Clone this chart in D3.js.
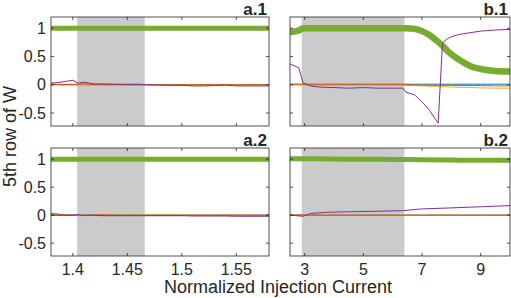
<!DOCTYPE html>
<html>
<head>
<meta charset="utf-8">
<script src="https://cdn.jsdelivr.net/npm/d3@7"></script>
<style>
  body { margin: 0; background: #fff; }
  svg { display: block; }
  text { font-family: "Liberation Sans", Arial, sans-serif; fill: #262626; }
</style>
</head>
<body>
<div id="chart"></div>
<script>
// ---- data ----
const aTicks = [1.4, 1.45, 1.5, 1.55];
const aTickLabels = ["1.4", "1.45", "1.5", "1.55"];
const bTicks = [3, 5, 7, 9];
const bTickLabels = ["3", "5", "7", "9"];
const yTicks = [1, 0.5, 0, -0.5];
const yTickLabels = ["1", "0.5", "0", "-0.5"];
const aShade = [1.404, 1.466];
const bShade = [2.9, 6.4];

// panel a (both rows share these x samples)
const aX       = [1.38, 1.385, 1.39, 1.395, 1.40, 1.405, 1.41, 1.415, 1.42, 1.43, 1.44, 1.45, 1.46, 1.47, 1.48, 1.49, 1.50, 1.51, 1.52, 1.53, 1.54, 1.55, 1.56, 1.57, 1.58];
const a1Green  = [1, 1, 1, 1, 1, 1, 1, 1, 1, 1, 1, 1, 1, 1, 1, 1, 1, 1, 1, 1, 1, 1, 1, 1, 1];
const a1Blue   = [0, 0, 0, 0, 0, 0, 0, 0, 0, 0, 0, 0, 0, 0, 0, 0, 0, 0, 0, 0, 0, 0, 0, 0, 0];
const a1Yellow = [0.01, 0.01, 0.01, 0.01, 0.01, 0.01, 0.005, 0.005, 0, 0, 0, 0, 0, 0, 0, 0, 0, 0, 0, 0, 0, 0, 0, 0, 0];
const a1Orange = [0.005, 0.005, 0.005, 0.005, 0.005, 0.01, 0.02, 0.01, 0.005, 0.005, 0.005, 0, 0, 0, 0, 0, 0, 0, 0, 0, 0, 0, 0, 0, 0];
const a1Purple = [0.03, 0.035, 0.05, 0.065, 0.08, 0.03, 0.045, 0.03, 0.015, 0.015, 0.01, 0.01, 0.01, 0, -0.005, -0.01, -0.01, -0.02, -0.02, -0.015, -0.005, -0.02, -0.02, -0.02, -0.02];
const a2Green  = [1, 1, 1, 1, 1, 1, 1, 1, 1, 1, 1, 1, 1, 1, 1, 1, 1, 1, 1, 1, 1, 1, 1, 1, 1];
const a2Blue   = [0, 0, 0, 0, 0, 0, 0, 0, 0, 0, 0, 0, 0, 0, 0, 0, 0, 0, 0, 0, 0, 0, 0, 0, 0];
const a2Yellow = [0.02, 0.02, 0.01, 0.005, 0, 0, 0, 0, 0, 0, 0, 0, 0, 0, 0, 0, 0, 0, 0, 0, 0, 0, 0, 0, 0];
const a2Orange = [0.03, 0.02, 0.01, 0.005, 0, 0, 0, 0, 0.005, 0.005, 0, 0, 0, 0, 0, 0, 0, 0, 0, 0, 0, 0, 0, 0, 0];
const a2Purple = [0, 0, 0, -0.005, 0, 0.01, -0.01, 0, -0.005, -0.01, -0.01, -0.01, -0.01, -0.01, -0.01, -0.01, -0.01, -0.015, -0.015, -0.015, -0.015, -0.02, -0.02, -0.02, -0.02];

// panel b.1
const b1X      = [2.5, 2.8, 2.95, 3.2, 3.5, 4.0, 4.5, 5.0, 5.5, 6.0, 6.35, 6.45, 6.75, 7.0, 7.25, 7.55, 7.7, 7.85, 8.0, 8.25, 8.5, 8.75, 9.0, 9.5, 10.0];
const b1Green  = [0.93, 0.96, 1, 1, 1, 1, 1, 1, 1, 1, 1, 1, 0.99, 0.95, 0.88, 0.76, 0.69, 0.61, 0.54, 0.45, 0.37, 0.31, 0.28, 0.245, 0.235];
const b1Blue   = [0.01, 0.01, 0.01, 0.01, 0.01, 0.01, 0.01, 0.01, 0.01, 0.01, 0.01, 0.01, 0.01, 0.01, 0.01, 0.01, 0.01, 0.01, 0.01, 0.01, 0.01, 0.01, 0.01, 0.01, 0.01];
const b1Yellow = [0.01, 0.01, 0.005, 0, 0, 0, 0, 0, 0, 0, -0.005, -0.01, -0.015, -0.02, -0.025, -0.03, -0.035, -0.035, -0.04, -0.045, -0.05, -0.05, -0.055, -0.06, -0.06];
const b1Orange = [0, 0, 0, 0, 0, 0, 0, 0, 0, 0, 0, 0, -0.005, -0.005, -0.01, -0.01, -0.01, -0.01, -0.01, -0.015, -0.015, -0.015, -0.015, -0.02, -0.02];
const b1Purple = [0.37, 0.30, 0.03, -0.02, -0.04, -0.05, -0.06, -0.05, -0.06, -0.06, -0.06, -0.13, -0.18, -0.30, -0.45, -0.68, 0.74, 0.81, 0.85, 0.89, 0.91, 0.93, 0.95, 0.97, 0.98];

// panel b.2
const b2X      = [2.5, 2.95, 3.2, 3.75, 4.5, 5.5, 6.35, 6.95, 8.0, 9.0, 10.0];
const b2Green  = [1.01, 1.01, 1.01, 1.005, 1.0, 1.0, 0.995, 0.99, 0.985, 0.98, 0.98];
const b2Blue   = [0, 0, 0, 0, 0, 0, 0, 0, 0, 0, 0];
const b2Yellow = [0, 0, 0, 0, 0, 0, 0, 0, 0, 0, 0];
const b2Orange = [0, 0.005, 0, 0, 0, 0, 0, 0, 0, 0, 0];
const b2Purple = [0, -0.02, 0.03, 0.05, 0.06, 0.07, 0.08, 0.11, 0.13, 0.15, 0.17];

// ---- layout ----
const W = 511, H = 298;
const colors = { green: "#77AC30", blue: "#0072BD", yellow: "#EDB120", orange: "#D95319", purple: "#7E2F8E" };
const yDomain = [-0.73, 1.2];

const cols = [
    { left: 51, right: 269, domain: [1.38, 1.58], ticks: aTicks, labels: aTickLabels, shade: aShade },
    { left: 290, right: 510, domain: [2.5, 10], ticks: bTicks, labels: bTickLabels, shade: bShade }
];
const rows = [{ top: 17, bottom: 126 }, { top: 148, bottom: 256 }];

const panels = [
    { name: "a.1", col: 0, row: 0, x: aX, greenW: 5,   s: { green: a1Green, blue: a1Blue, yellow: a1Yellow, orange: a1Orange, purple: a1Purple } },
    { name: "b.1", col: 1, row: 0, x: b1X, greenW: 6.5, s: { green: b1Green, blue: b1Blue, yellow: b1Yellow, orange: b1Orange, purple: b1Purple } },
    { name: "a.2", col: 0, row: 1, x: aX, greenW: 5,   s: { green: a2Green, blue: a2Blue, yellow: a2Yellow, orange: a2Orange, purple: a2Purple } },
    { name: "b.2", col: 1, row: 1, x: b2X, greenW: 5,   s: { green: b2Green, blue: b2Blue, yellow: b2Yellow, orange: b2Orange, purple: b2Purple } }
];
const drawOrder = ["green", "blue", "yellow", "orange", "purple"];

const svg = d3.select("#chart").append("svg")
    .attr("width", W)
    .attr("height", H);

panels.forEach((p, i) => {
    const c = cols[p.col], r = rows[p.row];
    const x = d3.scaleLinear().domain(c.domain).range([c.left, c.right]);
    const y = d3.scaleLinear().domain(yDomain).range([r.bottom, r.top]);
    const g = svg.append("g");

    g.append("clipPath").attr("id", "clip" + i)
        .append("rect")
        .attr("x", c.left).attr("y", r.top)
        .attr("width", c.right - c.left).attr("height", r.bottom - r.top);

    // shaded window
    g.append("rect")
        .attr("x", x(c.shade[0]))
        .attr("y", r.top)
        .attr("width", x(c.shade[1]) - x(c.shade[0]))
        .attr("height", r.bottom - r.top)
        .attr("fill", "#cbcbcb");

    const lines = g.append("g").attr("clip-path", `url(#clip${i})`);
    drawOrder.forEach(k => {
        const vals = p.s[k];
        const line = d3.line()
            .x((d, j) => x(p.x[j]))
            .y(d => y(d))
            .curve(k === "green" ? d3.curveMonotoneX : d3.curveLinear);
        lines.append("path")
            .attr("d", line(vals))
            .attr("fill", "none")
            .attr("stroke", colors[k])
            .attr("stroke-width", k === "green" ? p.greenW : 1)
            .attr("stroke-linejoin", "round");
    });

    // box
    g.append("rect")
        .attr("x", c.left).attr("y", r.top)
        .attr("width", c.right - c.left).attr("height", r.bottom - r.top)
        .attr("fill", "none")
        .attr("stroke", "#262626")
        .attr("stroke-width", 0.8);

    // inward ticks on all four sides
    const tl = 3;
    c.ticks.forEach(t => {
        g.append("line").attr("x1", x(t)).attr("x2", x(t)).attr("y1", r.bottom).attr("y2", r.bottom - tl)
            .attr("stroke", "#262626").attr("stroke-width", 0.8);
        g.append("line").attr("x1", x(t)).attr("x2", x(t)).attr("y1", r.top).attr("y2", r.top + tl)
            .attr("stroke", "#262626").attr("stroke-width", 0.8);
    });
    yTicks.forEach(t => {
        g.append("line").attr("x1", c.left).attr("x2", c.left + tl).attr("y1", y(t)).attr("y2", y(t))
            .attr("stroke", "#262626").attr("stroke-width", 0.8);
        g.append("line").attr("x1", c.right).attr("x2", c.right - tl).attr("y1", y(t)).attr("y2", y(t))
            .attr("stroke", "#262626").attr("stroke-width", 0.8);
    });

    // tick labels
    if (p.col === 0) {
        yTicks.forEach((t, j) => {
            g.append("text")
                .attr("x", c.left - 5)
                .attr("y", y(t))
                .attr("dy", "0.35em")
                .attr("text-anchor", "end")
                .style("font-size", "16px")
                .text(yTickLabels[j]);
        });
    }
    if (p.row === 1) {
        c.ticks.forEach((t, j) => {
            g.append("text")
                .attr("x", x(t))
                .attr("y", r.bottom + 19)
                .attr("text-anchor", "middle")
                .style("font-size", "16px")
                .text(c.labels[j]);
        });
    }

    // panel label
    g.append("text")
        .attr("x", c.right - 2)
        .attr("y", r.top - 2.5)
        .attr("text-anchor", "end")
        .style("font-size", "17px")
        .style("font-weight", "bold")
        .text(p.name);
});

// axis titles
svg.append("text")
    .attr("x", 278)
    .attr("y", 293)
    .attr("text-anchor", "middle")
    .style("font-size", "18px")
    .text("Normalized Injection Current");

svg.append("text")
    .attr("transform", `translate(16,${(rows[0].top + rows[1].bottom) / 2}) rotate(-90)`)
    .attr("text-anchor", "middle")
    .style("font-size", "18px")
    .text("5th row of W");
</script>
</body>
</html>
